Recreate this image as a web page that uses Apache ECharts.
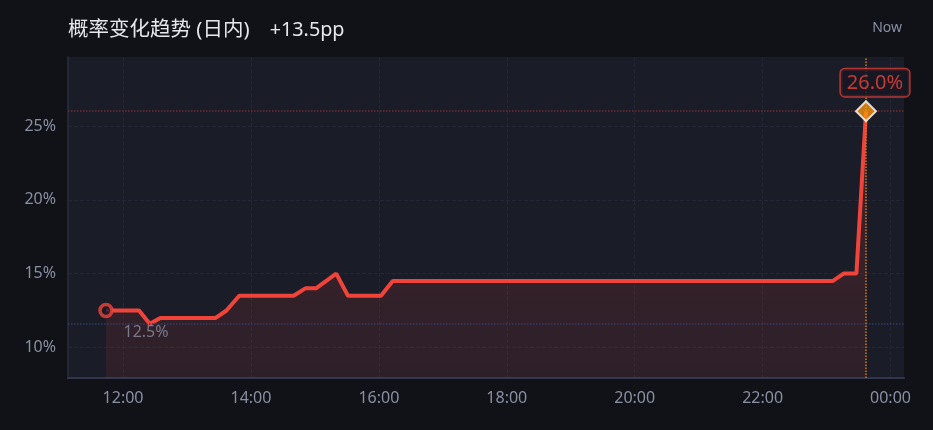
<!DOCTYPE html>
<html><head><meta charset="utf-8">
<script src="https://cdn.jsdelivr.net/npm/echarts@6/dist/echarts.min.js"></script>
<style>html,body{margin:0;padding:0;background:#111217;}#c{width:933px;height:430px;}</style>
</head><body><div id="c"></div>
<script>
// ---- data ----
const times = ['11:44','12:15','12:25','12:35','13:27','13:37','13:49','14:40','14:51','15:01','15:20','15:31','16:02','16:13','23:06','23:16','23:28','23:37'];
const values = [12.5,12.5,11.6,12.0,12.0,12.5,13.5,13.5,14.0,14.0,15.0,13.5,13.5,14.5,14.5,15.0,15.0,26.0];
const yTickValues = [10,15,20,25];
const xTickHours = [12,14,16,18,20,22,24];
const titleMain = '概率变化趋势 (日内)';
const nowText = 'Now';

// ---- build ----
function toHours(s){const [h,m]=s.split(':').map(Number);return h+m/60;}
const hrs = times.map(toHours);
const points = hrs.map((t,i)=>[t,values[i]]);
const first = points[0], last = points[points.length-1];
const change = (last[1]-first[1]);
const changeText = (change>=0?'+':'')+change.toFixed(1)+'pp';
const vMin = Math.min(...values), vMax = Math.max(...values);
const tRange = hrs[hrs.length-1]-hrs[0];
const vRange = vMax - vMin;
const RED = '#f0443a';
const GRAY = '#8b8fa3';
const FONT = '"Noto Sans","Noto Sans CJK SC",sans-serif';
const pad2 = n => (n<10?'0':'')+n;

const chart = echarts.init(document.getElementById('c'), null, {renderer:'canvas'});
chart.setOption({
  backgroundColor:'#111217',
  animation:false,
  textStyle:{fontFamily:FONT},
  title:{
    left:68, top:20, padding:0,
    text:'{a|'+titleMain+'}{c|'+changeText+'}',
    textStyle:{
      fontWeight:'normal',fontSize:20,color:'#e6e7ec',
      rich:{
        a:{fontSize:20.5,color:'#e6e7ec',fontFamily:FONT,fontWeight:'normal'},
        c:{fontSize:19.8,color:'#e6e7ec',fontFamily:FONT,fontWeight:'normal',padding:[0,0,0,20]}
      }
    }
  },
  graphic:[{
    type:'text', right:31, top:21,
    style:{text:nowText, fill:GRAY, font:'14px '+FONT}
  }],
  grid:{left:68,right:29,top:57,bottom:52,show:true,backgroundColor:'#1a1c27',borderWidth:0},
  xAxis:{
    type:'value',
    min: hrs[0]-tRange*0.05,
    max: hrs[hrs.length-1]+tRange*0.05,
    splitNumber:6,
    axisLine:{show:true,lineStyle:{color:'#33364a',width:2}},
    axisTick:{show:false},
    axisLabel:{
      color:GRAY,fontSize:16,margin:12,fontFamily:FONT,
      formatter:function(v){const r=Math.round(v*1000)/1000;return xTickHours.indexOf(r)>=0? pad2(r%24)+':00':'';}
    },
    splitLine:{show:true,showMinLine:false,showMaxLine:false,lineStyle:{color:'#232634',type:'dashed',width:1}}
  },
  yAxis:{
    type:'value',
    min: vMin - vRange*0.255,
    max: vMax + vRange*0.255,
    axisLine:{show:true,lineStyle:{color:'#2a2d3d',width:1.5}},
    axisTick:{show:false},
    axisLabel:{
      color:GRAY,fontSize:16,margin:12,fontFamily:FONT,
      formatter:function(v){const r=Math.round(v*1000)/1000;return yTickValues.indexOf(r)>=0? r+'%':'';}
    },
    splitLine:{show:true,showMinLine:false,showMaxLine:false,lineStyle:{color:'#232634',type:'dashed',width:1}}
  },
  series:[
    {
      type:'line',
      data:points,
      showSymbol:false,
      symbol:'none',
      lineStyle:{color:RED,width:4},
      areaStyle:{
        color:new echarts.graphic.LinearGradient(0,0,0,1,[
          {offset:0,color:'rgba(240,68,58,0.25)'},
          {offset:1,color:'rgba(240,68,58,0.13)'}
        ])
      },
      z:3,
      markLine:{
        silent:true,
        symbol:['none','none'],
        label:{show:false},
        data:[
          {yAxis:vMax,lineStyle:{color:'#6e2c30',type:'dotted',width:1.5}},
          {yAxis:vMin,lineStyle:{color:'#323d66',type:'dotted',width:1.5}},
          {xAxis:last[0],lineStyle:{color:'#d97b0f',type:'dotted',width:1.5}}
        ]
      }
    },
    {
      type:'scatter',
      data:[first],
      symbol:'circle',
      symbolSize:12,
      itemStyle:{color:'#1a1c27',borderColor:RED,borderWidth:3.5},
      label:{
        show:true,position:'inside',offset:[40,22],
        formatter:function(p){return p.value[1].toFixed(1)+'%';},
        color:GRAY,fontSize:16,fontFamily:FONT
      },
      z:5
    },
    {
      type:'scatter',
      data:[last],
      symbol:'diamond',
      symbolSize:20,
      itemStyle:{color:'#f5920f',borderColor:'#ffffff',borderWidth:2},
      label:{
        show:true,position:'top',distance:4,offset:[9,0],
        formatter:function(p){return p.value[1].toFixed(1)+'%';},
        color:RED,fontSize:20,fontFamily:FONT,
        backgroundColor:'#161823',borderColor:'#d9403a',borderWidth:1.5,borderRadius:4,
        padding:[4,6,3,6]
      },
      z:6
    }
  ]
});
</script>
</body></html>
